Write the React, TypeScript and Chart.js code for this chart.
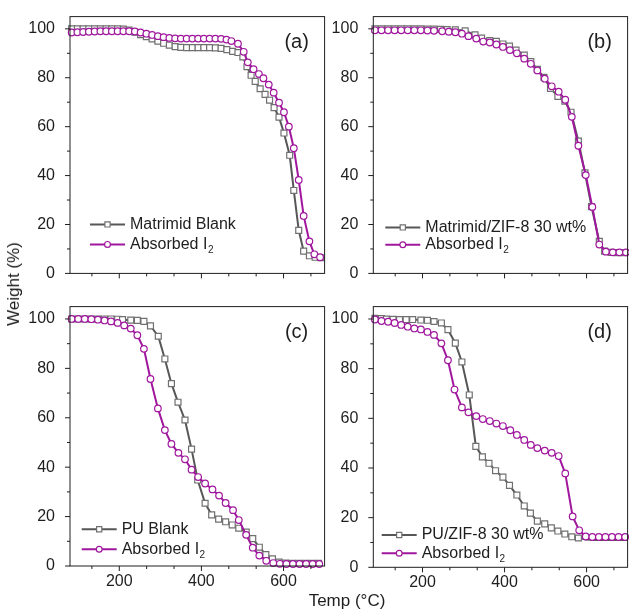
import React, { useEffect, useRef } from 'react';
import { Chart, registerables } from 'chart.js';
Chart.register(...registerables);

const FONT = "'Liberation Sans', Arial, Helvetica, sans-serif";
Chart.defaults.font.family = FONT;

// ---------- data ----------
const xTickLabels = [200, 400, 600];
const yTickLabels = [0, 20, 40, 60, 80, 100];

// (a) Matrimid Blank / Absorbed I2
const aBlankT = [84, 98, 112, 126, 140, 154, 168, 182, 196, 210, 224, 238, 252, 266, 280, 294, 308, 322, 336, 350, 364, 378, 392, 406, 420, 434, 448, 462, 476, 489, 501, 511, 521, 531, 543, 555, 566, 577, 589, 601, 615, 625, 637, 649, 663, 677, 691];
const aBlankW = [100, 100, 100, 100, 100, 100, 100, 100, 100, 99.9, 99.5, 98.6, 97.6, 96.8, 95.9, 95.0, 94.1, 93.3, 92.7, 92.4, 92.3, 92.3, 92.3, 92.3, 92.3, 92.2, 92.0, 91.5, 90.8, 90.3, 88.5, 84.5, 81.0, 78.5, 75.5, 73.2, 70.8, 67.8, 63.9, 57.4, 48.3, 33.9, 17.6, 9.1, 7.2, 6.6, 6.4];
const aIodT = [84, 98, 112, 126, 140, 154, 168, 182, 196, 210, 224, 238, 252, 266, 280, 294, 308, 322, 336, 350, 364, 378, 392, 406, 420, 434, 448, 461, 473, 489, 503, 513, 527, 540, 551, 564, 576, 589, 601, 613, 625, 637, 649, 663, 675, 689];
const aIodW = [98.5, 98.6, 98.7, 98.8, 98.9, 99, 99, 99, 99, 99, 99, 98.9, 98.5, 98.0, 97.5, 97.0, 96.6, 96.3, 96.1, 96.0, 96.0, 96.0, 96.0, 96.0, 96.0, 96.0, 95.9, 95.6, 95.0, 93.9, 90.6, 86.3, 83.5, 81.5, 79.8, 77.2, 73.9, 69.8, 65.9, 60.0, 51.2, 38.2, 23.5, 13.1, 7.8, 6.6];

// (b) Matrimid/ZIF-8 30 wt% / Absorbed I2
const bBlankT = [84, 100, 116, 132, 148, 164, 180, 196, 212, 228, 244, 260, 280, 304, 328, 344, 364, 380, 396, 412, 428, 448, 464, 480, 496, 512, 530, 547, 562, 580, 596, 612, 631, 644, 660, 676, 692];
const bBlankW = [100, 100, 100, 100, 100, 100, 100, 100, 99.9, 99.9, 99.8, 99.7, 99.6, 99.2, 97.5, 96.2, 95.2, 94.9, 93.8, 92.9, 91.3, 89.3, 86.6, 83.4, 80.2, 75.6, 72.4, 70.4, 65.9, 54.1, 41.1, 27.3, 13.1, 9.1, 8.6, 8.5, 8.5];
const bIodT = [84, 100, 116, 132, 148, 164, 180, 196, 212, 228, 248, 264, 280, 296, 312, 331, 348, 364, 380, 396, 413, 430, 448, 464, 480, 498, 515, 532, 548, 564, 580, 598, 614, 631, 647, 664, 680, 696];
const bIodW = [99.4, 99.4, 99.4, 99.4, 99.4, 99.4, 99.4, 99.4, 99.3, 99.2, 99.0, 98.8, 98.6, 98.0, 97.0, 96.0, 94.8, 94.4, 93.6, 92.6, 91.3, 90.0, 87.8, 85.7, 83.0, 79.6, 76.5, 74.3, 71.0, 64.0, 52.2, 40.2, 27.2, 11.8, 8.9, 8.6, 8.6, 8.6];

// (c) PU Blank / Absorbed I2
const cBlankT = [84, 100, 116, 132, 148, 164, 180, 196, 208, 228, 244, 260, 276, 295, 311, 327, 343, 360, 376, 391, 409, 425, 442, 459, 475, 491, 509, 525, 541, 557, 573, 589, 605, 621, 637, 653, 669, 685];
const cBlankW = [100, 100, 100, 100, 100, 100, 100, 99.9, 99.7, 99.5, 99.4, 99.0, 97.2, 93.0, 83.8, 73.8, 66.3, 59.1, 47.3, 34.8, 25.4, 20.7, 19.0, 17.9, 16.6, 15.3, 13.7, 11.1, 7.6, 4.6, 2.9, 1.6, 1.2, 1.1, 1.1, 1.1, 1.1, 1.1];
const cIodT = [84, 100, 116, 132, 148, 164, 180, 196, 212, 228, 244, 260, 276, 294, 311, 327, 344, 360, 376, 392, 409, 427, 443, 459, 477, 491, 509, 525, 541, 558, 575, 591, 607, 623, 639, 655, 671, 687];
const cIodW = [100, 100, 100, 99.9, 99.7, 99.4, 99.0, 98.4, 97.4, 96.1, 93.4, 87.9, 75.7, 63.8, 55.0, 49.4, 45.8, 43.2, 39.0, 36.0, 33.4, 31.0, 28.5, 25.5, 22.6, 18.6, 12.6, 7.4, 4.2, 2.1, 1.2, 0.9, 0.8, 0.8, 0.8, 0.8, 0.8, 0.8];

// (d) PU/ZIF-8 30 wt% / Absorbed I2
const dBlankT = [84, 100, 112, 128, 144, 160, 176, 196, 212, 228, 246, 262, 280, 296, 314, 330, 346, 362, 378, 396, 412, 430, 448, 463, 480, 498, 514, 530, 547, 564, 580, 600, 620, 640, 660, 680, 700];
const dBlankW = [100.3, 100.2, 100, 99.9, 99.8, 99.8, 99.8, 99.6, 99.5, 99.0, 98.4, 95.7, 90.3, 82.7, 69.4, 48.7, 44.5, 41.9, 38.9, 36.3, 33.0, 29.1, 24.7, 21.8, 18.6, 17.5, 15.9, 14.6, 13.4, 12.3, 11.8, 11.2, 11.0, 11.0, 11.0, 11.0, 11.0];
const dIodT = [84, 100, 116, 132, 148, 164, 180, 196, 212, 228, 246, 262, 278, 296, 312, 331, 347, 364, 380, 396, 414, 430, 448, 464, 480, 498, 515, 532, 548, 566, 582, 598, 614, 630, 646, 662, 678, 694];
const dIodW = [99.8, 99.2, 98.9, 98.4, 97.6, 96.9, 96.2, 95.8, 94.8, 93.6, 90.2, 83.4, 71.6, 64.4, 62.4, 60.9, 59.7, 58.9, 57.9, 56.9, 55.2, 53.3, 51.3, 49.3, 48.0, 47.0, 46.1, 44.8, 37.8, 20.5, 14.9, 12.4, 12.2, 12.2, 12.2, 12.2, 12.2, 12.2];

const panelLabels = ['(a)', '(b)', '(c)', '(d)'];
const blankNames = ['Matrimid Blank', 'Matrimid/ZIF-8 30 wt%', 'PU Blank', 'PU/ZIF-8 30 wt%'];
const iodineName = 'Absorbed I';
const iodineSub = '2';
const xTitle = 'Temp (°C)';
const yTitle = 'Weight (%)';

// ---------- style ----------
const GRAY = '#575757';
const GRAY_MARK = '#707070';
const MAGENTA = '#a0179e';
const INK = '#1e1e1e';

const toPts = (t: number[], w: number[]) => t.map((x, i) => ({ x, y: w[i] }));

const decorPlugin = {
  id: 'decor',
  afterDraw(chart: any, _args: any, opts: any) {
    const { ctx, chartArea: ca, scales } = chart;
    const xs = scales.x, ys = scales.y;
    ctx.save();
    ctx.strokeStyle = INK;
    ctx.lineWidth = 1;
    ctx.strokeRect(ca.left, ca.top, ca.right - ca.left, ca.bottom - ca.top);
    // x ticks (major every 200, 2 minor between)
    for (let k = 2; k <= 10; k++) {
      const v = (k * 200) / 3;
      if (v < 80 || v > 700) continue;
      const px = xs.getPixelForValue(v);
      const major = k % 3 === 0;
      ctx.beginPath();
      ctx.moveTo(px, ca.bottom);
      ctx.lineTo(px, ca.bottom + (major ? 5 : 3));
      ctx.stroke();
    }
    for (let v = 0; v <= 100; v += 10) {
      const py = ys.getPixelForValue(v);
      const major = v % 20 === 0;
      ctx.beginPath();
      ctx.moveTo(ca.left, py);
      ctx.lineTo(ca.left - (major ? 5 : 3), py);
      ctx.stroke();
    }
    // panel label
    ctx.fillStyle = INK;
    ctx.font = `20px ${FONT}`;
    ctx.textAlign = 'center';
    ctx.textBaseline = 'middle';
    ctx.fillText(opts.label, ca.right - 28, ca.top + 26);
    // legend
    const lg = opts.legend;
    const ds = chart.data.datasets;
    const rows = [lg.row1, lg.row2];
    [1, 0].forEach((di, r) => {
      const d = ds[di];
      const x0 = ca.left + lg.dx;
      const y0 = ca.bottom - rows[r];
      ctx.strokeStyle = d.borderColor;
      ctx.lineWidth = 2;
      ctx.beginPath();
      ctx.moveTo(x0, y0);
      ctx.lineTo(x0 + 35, y0);
      ctx.stroke();
      ctx.fillStyle = '#fff';
      ctx.strokeStyle = d.pointBorderColor;
      ctx.lineWidth = 1.2;
      const mx = x0 + 17.5;
      ctx.beginPath();
      if (d.pointStyle === 'rect') ctx.rect(mx - 2.6, y0 - 2.6, 5.2, 5.2);
      else ctx.arc(mx, y0, 2.9, 0, Math.PI * 2);
      ctx.fill();
      ctx.stroke();
      ctx.fillStyle = INK;
      ctx.textAlign = 'left';
      ctx.textBaseline = 'middle';
      ctx.font = `16px ${FONT}`;
      ctx.fillText(d.label, x0 + 40, y0);
      if (d.sub) {
        const w = ctx.measureText(d.label).width;
        ctx.font = `10px ${FONT}`;
        ctx.fillText(d.sub, x0 + 40 + w + 0.5, y0 + 6);
      }
    });
    ctx.restore();
  },
};

type PanelProps = {
  idx: number;
  blank: { x: number; y: number }[];
  iod: { x: number; y: number }[];
  left: number; top: number; width: number; height: number;
  yw: number; pt: number; pr: number; pb: number; xh: number;
  showX: boolean;
  legend: { dx: number; row1: number; row2: number };
  hideGrayAfter?: number;
};

function Panel(p: PanelProps) {
  const ref = useRef<HTMLCanvasElement | null>(null);
  useEffect(() => {
    if (!ref.current) return;
    const chart = new Chart(ref.current, {
      type: 'line',
      data: {
        datasets: [
          {
            label: iodineName,
            sub: iodineSub,
            data: p.iod,
            borderColor: MAGENTA,
            borderWidth: 2,
            pointStyle: 'circle',
            pointRadius: 3.3,
            pointBorderWidth: 1.2,
            pointBorderColor: MAGENTA,
            pointBackgroundColor: '#ffffff',
            order: 0,
            clip: false,
          } as any,
          {
            label: blankNames[p.idx],
            data: p.blank,
            borderColor: GRAY,
            borderWidth: 2,
            pointStyle: 'rect',
            pointRadius: (c: any) => (p.hideGrayAfter !== undefined && c.raw && c.raw.x > p.hideGrayAfter ? 0 : 4.2),
            pointBorderWidth: 1.2,
            pointBorderColor: GRAY_MARK,
            pointBackgroundColor: '#ffffff',
            order: 1,
            clip: false,
          } as any,
        ],
      },
      options: {
        animation: false,
        responsive: false,
        maintainAspectRatio: false,
        layout: { padding: { left: 0, right: p.pr, top: p.pt, bottom: p.pb } },
        plugins: {
          legend: { display: false },
          tooltip: { enabled: false },
          decor: { label: panelLabels[p.idx], legend: p.legend },
        } as any,
        scales: {
          x: {
            type: 'linear',
            min: 80,
            max: 700,
            grid: { display: false },
            border: { display: false },
            ticks: { display: p.showX, stepSize: 200, padding: -2, color: INK, font: { size: 16, family: FONT } },
            afterBuildTicks: (s: any) => {
              s.ticks = xTickLabels.map((v) => ({ value: v }));
            },
            afterFit: (s: any) => {
              s.height = p.xh;
            },
          },
          y: {
            type: 'linear',
            min: 0,
            max: 105,
            grid: { display: false },
            border: { display: false },
            ticks: { stepSize: 20, padding: 7, color: INK, font: { size: 16, family: FONT } },
            afterBuildTicks: (s: any) => {
              s.ticks = yTickLabels.map((v) => ({ value: v }));
            },
            afterFit: (s: any) => {
              s.width = p.yw;
            },
          },
        },
      } as any,
      plugins: [decorPlugin],
    });
    return () => chart.destroy();
  }, []);
  return (
    <canvas
      ref={ref}
      width={p.width}
      height={p.height}
      style={{ position: 'absolute', left: p.left, top: p.top, width: p.width, height: p.height }}
    />
  );
}

export default function App() {
  return (
    <div style={{ position: 'fixed', left: 0, top: 0, width: 629, height: 610, overflow: 'hidden', background: '#fff' }}>
      <Panel idx={0} blank={toPts(aBlankT, aBlankW)} iod={toPts(aIodT, aIodW)}
        left={0} top={0} width={330} height={290} yw={70} pt={13.5} pr={5} pb={4} xh={4} showX={false}
        legend={{ dx: 20, row1: 49, row2: 29 }} />
      <Panel idx={1} blank={toPts(bBlankT, bBlankW)} iod={toPts(bIodT, bIodW)}
        left={303} top={0} width={330} height={290} yw={70.3} pt={13.5} pr={1.3} pb={4} xh={4} showX={false}
        legend={{ dx: 12, row1: 46, row2: 28.7 }} />
      <Panel idx={2} blank={toPts(cBlankT, cBlankW)} iod={toPts(cIodT, cIodW)}
        left={0} top={290} width={330} height={320} yw={70} pt={10} pr={5} pb={0} xh={44} showX={true}
        legend={{ dx: 11.7, row1: 36.7, row2: 16.7 }} />
      <Panel idx={3} blank={toPts(dBlankT, dBlankW)} iod={toPts(dIodT, dIodW)}
        left={303} top={290} width={330} height={320} yw={70.3} pt={10} pr={1.3} pb={0} xh={42.7} showX={true}
        legend={{ dx: 8.4, row1: 32.3, row2: 14 }} hideGrayAfter={590} />
      <div style={{ position: 'absolute', left: 14, top: 284, transform: 'translate(-50%, -50%) rotate(-90deg)', whiteSpace: 'nowrap', font: `17px ${FONT}`, color: INK }}>
        {yTitle}
      </div>
      <div style={{ position: 'absolute', left: 347, top: 601, transform: 'translate(-50%, -50%)', whiteSpace: 'nowrap', font: `17px ${FONT}`, color: INK }}>
        {xTitle}
      </div>
    </div>
  );
}
